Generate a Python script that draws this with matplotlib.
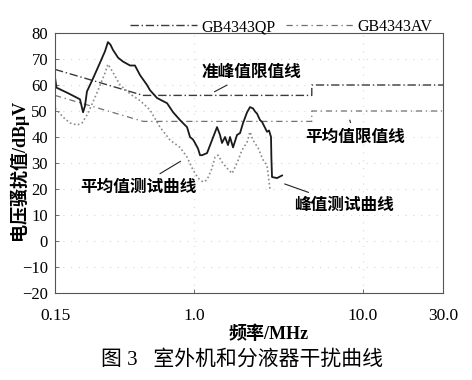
import matplotlib
matplotlib.use("Agg")
import matplotlib.pyplot as plt
from matplotlib.ticker import FixedLocator, NullLocator

# ---------------- data ----------------
peak_f = [0.150, 0.153, 0.180, 0.211, 0.220, 0.226, 0.232, 0.252, 0.277, 0.297,
          0.309, 0.320, 0.331, 0.355, 0.380, 0.418, 0.447, 0.479, 0.527, 0.549,
          0.604, 0.693, 0.751, 0.827, 0.910, 0.948, 0.988, 1.015, 1.058, 1.087,
          1.117, 1.196, 1.280, 1.371, 1.428, 1.467, 1.529, 1.593, 1.637, 1.706,
          1.802, 1.877, 1.956, 2.066, 2.151, 2.241, 2.304, 2.367, 2.466, 2.535,
          2.714, 2.789, 2.865, 2.880, 2.905, 3.111, 3.332]
peak_v = [63.0, 59.0, 56.8, 54.5, 49.5, 52.0, 57.5, 62.5, 68.5, 73.0,
          76.5, 75.5, 73.5, 70.5, 69.0, 67.5, 67.5, 63.8, 60.0, 58.0,
          55.0, 53.0, 49.6, 46.5, 43.8, 40.0, 39.0, 37.7, 35.5, 33.0,
          33.0, 33.8, 38.8, 43.8, 40.8, 37.7, 40.0, 36.9, 40.0, 36.0,
          40.8, 41.5, 45.4, 49.5, 51.5, 51.0, 49.8, 49.0, 46.5, 45.8,
          42.0, 42.5, 40.0, 32.0, 24.6, 24.2, 25.2]

avg_f = [0.150, 0.154, 0.167, 0.184, 0.203, 0.217, 0.235, 0.266, 0.297, 0.309,
         0.330, 0.365, 0.420, 0.479, 0.549, 0.629, 0.722, 0.827, 0.910, 0.988,
         1.058, 1.132, 1.196, 1.280, 1.334, 1.390, 1.467, 1.572, 1.683, 1.802,
         1.929, 2.066, 2.151, 2.241, 2.400, 2.570, 2.714, 2.830]
avg_v = [51.0, 50.4, 47.7, 45.4, 44.6, 45.4, 49.0, 57.0, 64.6, 68.0,
         65.0, 60.0, 56.5, 54.0, 50.4, 43.8, 38.8, 36.0, 32.3, 27.3,
         24.2, 22.7, 23.5, 28.0, 32.3, 33.0, 30.4, 28.0, 26.0, 30.0,
         35.0, 38.0, 42.0, 38.8, 35.8, 31.2, 29.0, 19.6]

qp_limit_f = [0.15, 0.5, 5.0, 5.0, 30.0]
qp_limit_v = [66.0, 56.0, 56.0, 60.0, 60.0]
av_limit_f = [0.15, 0.5, 5.0, 5.0, 30.0]
av_limit_v = [56.0, 46.0, 46.0, 50.0, 50.0]

x_ticks = [0.15, 1.0, 10.0, 30.0]
x_tick_labels = ["0.15", "1.0", "10.0", "30.0"]
y_ticks = [80, 70, 60, 50, 40, 30, 20, 10, 0, -10, -20]

# ---------------- figure ----------------
SERIF = ["Liberation Serif", "DejaVu Serif"]
MIX = ["Liberation Serif", "Noto Sans CJK SC", "DejaVu Sans"]
CJK = ["Noto Sans CJK SC", "DejaVu Sans"]

fig = plt.figure(figsize=(4.72, 3.80), dpi=100)
ax = fig.add_axes([55/472, 1-293/380, (443-55)/472, (293-33)/380])
ax.set_xscale("log")
ax.set_xlim(0.15, 30.0)
ax.set_ylim(-20, 80)

ax.grid(True, which="major", color="#d8d8d8", linestyle=(0, (1, 6)), linewidth=0.8)

ln_qp, = ax.plot(qp_limit_f, qp_limit_v, color="#3a3a3a", linewidth=1.0,
                 linestyle=(0, (6, 2, 1, 2)), label="GB4343QP")
ln_av, = ax.plot(av_limit_f, av_limit_v, color="#707070", linewidth=0.9,
                 linestyle=(0, (5, 3, 1, 3)), label="GB4343AV")
ax.plot(avg_f, avg_v, color="#8a8a8a", linewidth=1.2, linestyle=(0, (1, 1.5)))
ax.plot(peak_f, peak_v, color="#1a1a1a", linewidth=1.3)

ax.xaxis.set_major_locator(FixedLocator(x_ticks))
ax.xaxis.set_minor_locator(NullLocator())
ax.set_xticklabels(x_tick_labels, fontfamily=SERIF, fontsize=12.5)
ax.set_yticks(y_ticks)
ax.set_yticklabels([str(v).replace("-", "\u2212") for v in y_ticks],
                   fontfamily=SERIF, fontsize=12)
ax.tick_params(axis="both", direction="in", length=3, width=0.6, color="#555555")
ax.tick_params(axis="x", pad=11)
ax.tick_params(axis="y", pad=5)
for s in ax.spines.values():
    s.set_color("#555555")
    s.set_linewidth(0.8)
ax.spines["right"].set_linestyle((0, (2, 1)))
ax.spines["bottom"].set_linestyle((0, (3, 1)))

ax.set_xlabel("频率/MHz", fontfamily=MIX, fontsize=13, fontweight="bold")
ax.xaxis.label.set_va("center")
ax.xaxis.set_label_coords((269-55)/(443-55), -(334-293)/(293-33))
ax.set_ylabel("电压骚扰值/dBμV", fontfamily=MIX, fontsize=13, fontweight="bold")
ax.yaxis.label.set_va("center")
ax.yaxis.set_label_coords(-(55-18)/(443-55), (293-170)/(293-33))

# legend (header)
leg = ax.legend(handles=[ln_qp, ln_av], ncol=2, frameon=False,
                loc="lower left", bbox_to_anchor=(130/472, 1-35/380),
                bbox_transform=fig.transFigure, borderaxespad=0, borderpad=0,
                handlelength=4.2, handletextpad=0.3, columnspacing=0.6,
                prop={"family": SERIF, "size": 11.5})

# annotations
akw = dict(arrowprops=dict(arrowstyle="-", color="#222222", lw=0.8),
           fontfamily=CJK, fontsize=12, fontweight="bold",
           ha="center", va="center")
ax.annotate("准峰值限值线", xy=(1.28, 56.9), xytext=(2.2, 65.0), **akw)
ax.annotate("平均值限值线", xy=(8.4, 46.5), xytext=(9.0, 40.0), **akw)
ax.annotate("峰值测试曲线", xy=(3.33, 22.3), xytext=(7.8, 13.8), **akw)
ax.annotate("平均值测试曲线", xy=(0.86, 31.2), xytext=(0.466, 20.8), **akw)

fig.text(242/472, 1-360/380, "图 3   室外机和分液器干扰曲线", fontfamily=MIX,
         fontsize=15, ha="center", va="center")

fig.savefig("out.png", dpi=100)
